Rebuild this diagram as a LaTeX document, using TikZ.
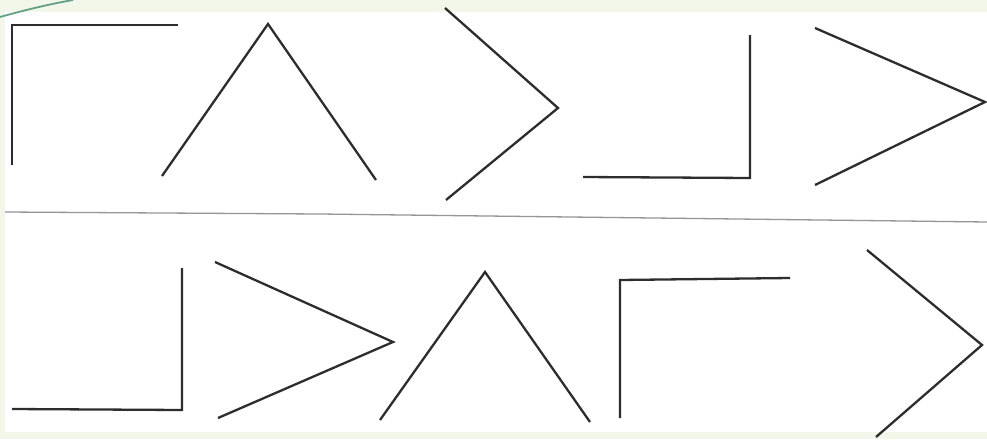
\documentclass[tikz,border=0pt]{standalone}
\definecolor{edgegreen}{RGB}{243,247,234}
\definecolor{inkline}{RGB}{45,45,45}
\definecolor{rulegray}{RGB}{150,150,150}
\definecolor{arcgreen}{RGB}{100,160,135}
\begin{document}
\begin{tikzpicture}[x=1pt,y=-1pt,
  fig/.style={draw=inkline,line width=2.3pt,line join=miter,line cap=butt},
  divider/.style={draw=rulegray,line width=1.3pt},
  arc/.style={draw=arcgreen,line width=1.8pt}]
\useasboundingbox (0,0) rectangle (987,439);
\fill[edgegreen] (0,0) rectangle (987,439);
\fill[white] (5,12) rectangle (987,432);
% green arc
\draw[arc] (0,17) .. controls (25,10) and (50,4) .. (73,0);
% top row
\coordinate (a1) at (12,165); \coordinate (a2) at (12,25); \coordinate (a3) at (178,25);
\draw[fig] (a1) -- (a2) -- (a3);
\coordinate (b1) at (162,176); \coordinate (b2) at (268,24); \coordinate (b3) at (376,180);
\draw[fig] (b1) -- (b2) -- (b3);
\coordinate (c1) at (445,8); \coordinate (c2) at (558,108); \coordinate (c3) at (446,200);
\draw[fig] (c1) -- (c2) -- (c3);
\coordinate (d1) at (583,177); \coordinate (d2) at (750,178); \coordinate (d3) at (750,35);
\draw[fig] (d1) -- (d2) -- (d3);
\coordinate (e1) at (815,28); \coordinate (e2) at (985,102); \coordinate (e3) at (815,185);
\draw[fig] (e1) -- (e2) -- (e3);
% divider
\coordinate (r1) at (5,212); \coordinate (r2) at (320,214); \coordinate (r3) at (987,222);
\draw[divider] (r1) -- (r2) -- (r3);
% bottom row
\coordinate (f1) at (12,409); \coordinate (f2) at (182,410); \coordinate (f3) at (182,268);
\draw[fig] (f1) -- (f2) -- (f3);
\coordinate (g1) at (215,262); \coordinate (g2) at (393,342); \coordinate (g3) at (218,418);
\draw[fig] (g1) -- (g2) -- (g3);
\coordinate (h1) at (380,420); \coordinate (h2) at (485,272); \coordinate (h3) at (590,422);
\draw[fig] (h1) -- (h2) -- (h3);
\coordinate (i1) at (620,418); \coordinate (i2) at (620,280); \coordinate (i3) at (790,278);
\draw[fig] (i1) -- (i2) -- (i3);
\coordinate (j1) at (867,250); \coordinate (j2) at (982,345); \coordinate (j3) at (876,437);
\draw[fig] (j1) -- (j2) -- (j3);
\end{tikzpicture}
\end{document}
